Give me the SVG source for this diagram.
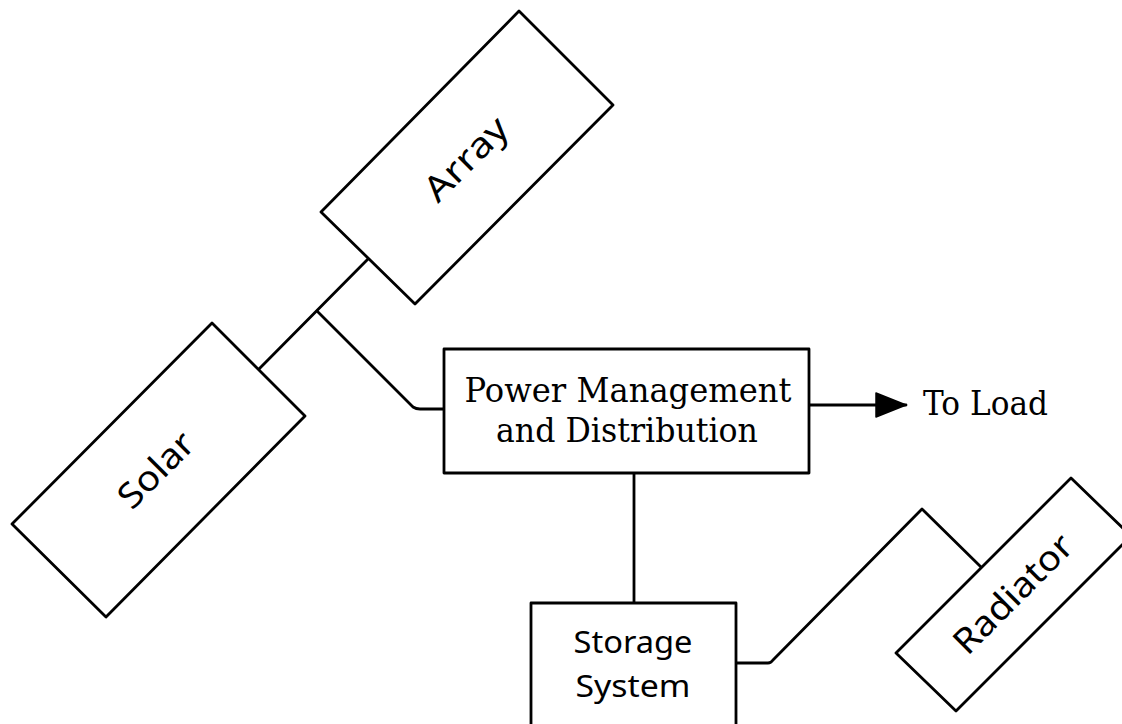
<svg xmlns="http://www.w3.org/2000/svg" width="1122" height="724" viewBox="0 0 1122 724">
  <style>
    .box { fill: #ffffff; stroke: #000000; stroke-width: 2.8; stroke-linejoin: round; }
    .wire { fill: none; stroke: #000000; stroke-width: 2.8; stroke-linejoin: round; stroke-linecap: round; }
    .label { font-family: "DejaVu Serif", "Liberation Serif", serif; font-size: 33px; fill: #000000; }
    .tag { font-family: "Noto Sans", "DejaVu Sans", sans-serif; font-size: 35px; fill: #000000; }
    .tag-sm { font-family: "Noto Sans", "DejaVu Sans", sans-serif; font-size: 30px; fill: #000000; }
  </style>
  <defs>
    <marker id="head" markerUnits="userSpaceOnUse" markerWidth="34" markerHeight="28" refX="31" refY="13" orient="auto">
      <path d="M1,1 L31,13 L1,25 Z" fill="#000000" stroke="#000000" stroke-width="1.5" stroke-linejoin="round"/>
    </marker>
  </defs>

  <rect width="1122" height="724" fill="#ffffff"/>

  <!-- connectors -->
  <g id="connectors">
    <!-- solar array mast: both wings joined, tap down to PMAD -->
    <path class="wire" d="M368,259 L259,369"/>
    <path class="wire" d="M317,311 L413,407 Q416,409 420,409 L444,409"/>
    <!-- PMAD to load -->
    <path class="wire" d="M809,405 L906,405" marker-end="url(#head)"/>
    <!-- PMAD to storage -->
    <path class="wire" d="M634,473 L634,603"/>
    <!-- storage to radiator -->
    <path class="wire" d="M736,663 L768,663 Q771,663 773,660 L922,509 L981,567"/>
  </g>

  <!-- solar array wing, upper -->
  <g id="array">
    <polygon class="box" points="519,11 613,105 415,304 321,212"/>
    <text class="tag" transform="translate(466,159) rotate(-45)" text-anchor="middle" y="12" textLength="103" lengthAdjust="spacingAndGlyphs">Array</text>
  </g>

  <!-- solar array wing, lower -->
  <g id="solar">
    <polygon class="box" points="212,323 305,416 106,617 12,524"/>
    <text class="tag" transform="translate(156,470) rotate(-45)" text-anchor="middle" y="12" textLength="92" lengthAdjust="spacingAndGlyphs">Solar</text>
  </g>

  <!-- power management and distribution -->
  <g id="pmad">
    <rect class="box" x="444" y="349" width="365" height="124"/>
    <text class="label" x="628" y="402" text-anchor="middle" textLength="327" lengthAdjust="spacingAndGlyphs">Power Management</text>
    <text class="label" x="627" y="442" text-anchor="middle" textLength="262" lengthAdjust="spacingAndGlyphs">and Distribution</text>
  </g>

  <!-- load label -->
  <g id="load">
    <text class="label" x="923" y="415" textLength="125" lengthAdjust="spacingAndGlyphs">To Load</text>
  </g>

  <!-- storage system -->
  <g id="storage">
    <rect class="box" x="531" y="603" width="205" height="140"/>
    <text class="tag-sm" x="633" y="653" text-anchor="middle" textLength="119" lengthAdjust="spacingAndGlyphs">Storage</text>
    <text class="tag-sm" x="633" y="697" text-anchor="middle" textLength="115" lengthAdjust="spacingAndGlyphs">System</text>
  </g>

  <!-- radiator -->
  <g id="radiator">
    <polygon class="box" points="1071,478 1131,536 956,711 896,653"/>
    <text class="tag" transform="translate(1013,594) rotate(-45)" text-anchor="middle" y="12" textLength="153" lengthAdjust="spacingAndGlyphs">Radiator</text>
  </g>
</svg>
